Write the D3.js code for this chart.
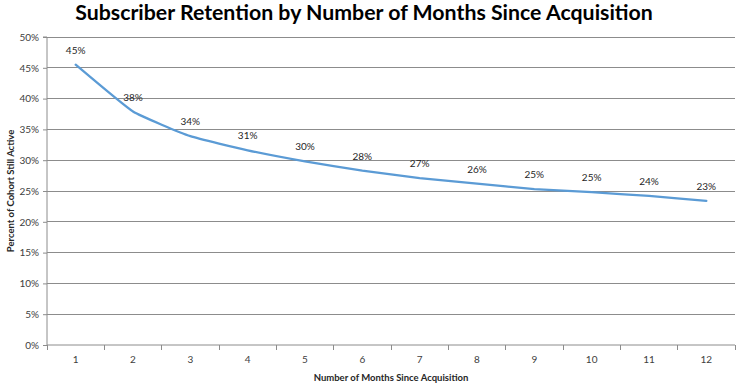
<!DOCTYPE html>
<html><head><meta charset="utf-8">
<script src="https://cdn.jsdelivr.net/npm/d3@7"></script>
<style>body{margin:0;background:#fff}svg{display:block;font-family:Lato,"Open Sans",sans-serif}</style>
</head><body><svg id="c" width="742" height="388"></svg>
<script>
const months = ["1","2","3","4","5","6","7","8","9","10","11","12"];
const retention = [0.455, 0.379, 0.339, 0.316, 0.298, 0.283, 0.271, 0.262, 0.253, 0.248, 0.242, 0.234];
const pointLabels = ["45%","38%","34%","31%","30%","28%","27%","26%","25%","25%","24%","23%"];
const yTicks = [0,0.05,0.1,0.15,0.2,0.25,0.3,0.35,0.4,0.45,0.5];
const title = "Subscriber Retention by Number of Months Since Acquisition";
const xTitle = "Number of Months Since Acquisition";
const yTitle = "Percent of Cohort Still Active";

const svg = d3.select("#c");
const m = {l:47, r:735, t:37, b:345};
const x = d3.scaleBand().domain(months).range([m.l, m.r]);
const y = d3.scaleLinear().domain([0,0.5]).range([m.b, m.t]);

// gridlines
svg.append("g").selectAll("line").data(yTicks.slice(1)).join("line")
  .attr("x1", m.l).attr("x2", m.r).attr("y1", d=>y(d)).attr("y2", d=>y(d))
  .attr("stroke", "#8c8c8c").attr("stroke-width", 1).attr("shape-rendering","crispEdges");

// y axis
const ya = svg.append("g").attr("transform", `translate(${m.l},0)`)
  .call(d3.axisLeft(y).tickValues(yTicks).tickFormat(d3.format(".0%")).tickSize(4).tickPadding(4));
ya.select(".domain").attr("stroke","#8c8c8c").attr("d", `M-4,${m.t}H0V${m.b}`);
ya.selectAll(".tick line").attr("stroke","#8c8c8c");
ya.selectAll("text").attr("fill","#404040").style("font-size","10px").attr("font-family","Lato,sans-serif");

// x axis
const xa = svg.append("g").attr("transform", `translate(0,${m.b})`)
  .call(d3.axisBottom(x).tickSize(0).tickPadding(11));
xa.select(".domain").attr("stroke","#8c8c8c").attr("d", `M${m.l},0H${m.r}`);
xa.selectAll("text").attr("fill","#404040").style("font-size","10px").attr("font-family","Lato,sans-serif");
svg.append("g").selectAll("line").data(months.concat(["end"])).join("line")
  .attr("x1", (d,i)=> m.l + i*x.step()).attr("x2", (d,i)=> m.l + i*x.step())
  .attr("y1", m.b).attr("y2", m.b+5).attr("stroke","#8c8c8c").attr("shape-rendering","crispEdges");

// line
const line = d3.line().x((d,i)=>x(months[i])+x.bandwidth()/2).y(d=>y(d)).curve(d3.curveCardinal.tension(0.6));
svg.append("path").datum(retention).attr("d", line).attr("fill","none")
  .attr("stroke","#5b9bd5").attr("stroke-width",2.25).attr("stroke-linecap","round");

// data labels
svg.append("g").selectAll("text").data(retention).join("text")
  .attr("x",(d,i)=>x(months[i])+x.bandwidth()/2).attr("y",d=>y(d)-11)
  .attr("text-anchor","middle").style("font-size","10px").attr("fill","#262626")
  .text((d,i)=>pointLabels[i]);

// titles
svg.append("text").attr("x",364).attr("y",20).attr("text-anchor","middle")
  .style("font-size","21.3px").style("font-weight","bold").attr("fill","#000").text(title);
svg.append("text").attr("x",391).attr("y",381).attr("text-anchor","middle")
  .style("font-size","9.5px").style("font-weight","bold").attr("fill","#262626").text(xTitle);
svg.append("text").attr("transform","translate(14,191) rotate(-90)").attr("text-anchor","middle")
  .style("font-size","9.5px").style("font-weight","bold").attr("fill","#262626").text(yTitle);
</script></body></html>
